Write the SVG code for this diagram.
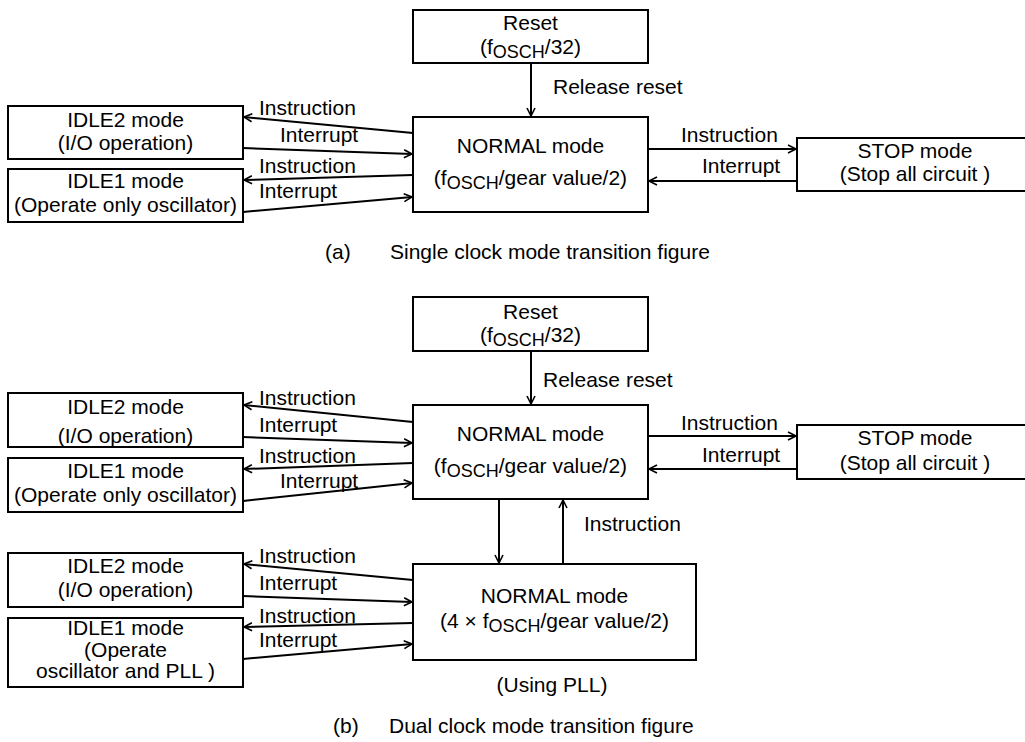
<svg xmlns="http://www.w3.org/2000/svg" width="1025" height="742" viewBox="0 0 1025 742">
<style>
text{font-family:"Liberation Sans",Arial,sans-serif;font-size:21px;fill:#000}
.c{text-anchor:middle}
.box{fill:#fff;stroke:#000;stroke-width:2}
.ln{fill:none;stroke:#000;stroke-width:2;marker-end:url(#ah)}
.sub{font-size:18px}
</style>
<defs>
<marker id="ah" markerUnits="userSpaceOnUse" markerWidth="12" markerHeight="12" viewBox="0 0 12 12" refX="10" refY="6" orient="auto">
<path d="M2,2 L10,6 L2,10" fill="none" stroke="#000" stroke-width="1.6"/>
</marker>
</defs>
<rect width="1025" height="742" fill="#fff"/>

<g id="connectors">
<!-- (a) -->
<line class="ln" x1="531" y1="63" x2="531" y2="116"/>
<line class="ln" x1="648" y1="149" x2="796" y2="149"/>
<line class="ln" x1="797" y1="181" x2="649" y2="181"/>
<line class="ln" x1="413" y1="133" x2="244" y2="117"/>
<line class="ln" x1="243" y1="148" x2="412" y2="154"/>
<line class="ln" x1="413" y1="175" x2="244" y2="180"/>
<line class="ln" x1="243" y1="212" x2="412" y2="197"/>
<!-- (b) -->
<line class="ln" x1="531" y1="351" x2="531" y2="404"/>
<line class="ln" x1="648" y1="436" x2="796" y2="436"/>
<line class="ln" x1="797" y1="469" x2="649" y2="469"/>
<line class="ln" x1="413" y1="422" x2="244" y2="405"/>
<line class="ln" x1="243" y1="437" x2="412" y2="443"/>
<line class="ln" x1="413" y1="463" x2="244" y2="469"/>
<line class="ln" x1="243" y1="501" x2="412" y2="483"/>
<line class="ln" x1="499" y1="499" x2="499" y2="563"/>
<line class="ln" x1="563" y1="564" x2="563" y2="500"/>
<line class="ln" x1="413" y1="580" x2="244" y2="564"/>
<line class="ln" x1="243" y1="596" x2="412" y2="602"/>
<line class="ln" x1="413" y1="623" x2="244" y2="627"/>
<line class="ln" x1="243" y1="659" x2="412" y2="644"/>
</g>

<g id="labels">
<text x="553" y="94">Release reset</text>
<text x="681" y="142">Instruction</text>
<text x="702" y="173">Interrupt</text>
<text x="259" y="115">Instruction</text>
<text x="280" y="142">Interrupt</text>
<text x="259" y="173">Instruction</text>
<text x="259" y="198">Interrupt</text>
<text x="325" y="259">(a)</text>
<text x="390" y="259">Single clock mode transition figure</text>

<text x="543" y="387">Release reset</text>
<text x="681" y="430">Instruction</text>
<text x="702" y="462">Interrupt</text>
<text x="259" y="405">Instruction</text>
<text x="259" y="432">Interrupt</text>
<text x="259" y="463">Instruction</text>
<text x="280" y="488">Interrupt</text>
<text x="584" y="531">Instruction</text>
<text x="259" y="563">Instruction</text>
<text x="259" y="590">Interrupt</text>
<text x="259" y="623">Instruction</text>
<text x="259" y="647">Interrupt</text>
<text class="c" x="552" y="692">(Using PLL)</text>
<text x="333" y="733">(b)</text>
<text x="389" y="733">Dual clock mode transition figure</text>
</g>

<g id="a-reset">
<rect class="box" x="413" y="10" width="235" height="53"/>
<text class="c" x="530.5" y="30">Reset</text>
<text class="c" x="530.5" y="54">(f<tspan class="sub" dy="4">OSCH</tspan><tspan dy="-4">/32)</tspan></text>
</g>
<g id="a-normal">
<rect class="box" x="413" y="117" width="235" height="95"/>
<text class="c" x="530.5" y="153">NORMAL mode</text>
<text class="c" x="530.5" y="185">(f<tspan class="sub" dy="4">OSCH</tspan><tspan dy="-4">/gear value/2)</tspan></text>
</g>
<g id="a-stop">
<rect class="box" x="797" y="138" width="236" height="53"/>
<text class="c" x="915" y="158">STOP mode</text>
<text class="c" x="915" y="181">(Stop all circuit )</text>
</g>
<g id="a-idle2">
<rect class="box" x="8" y="106" width="235" height="53"/>
<text class="c" x="125.5" y="127">IDLE2 mode</text>
<text class="c" x="125.5" y="150">(I/O operation)</text>
</g>
<g id="a-idle1">
<rect class="box" x="8" y="169" width="235" height="53"/>
<text class="c" x="125.5" y="188">IDLE1 mode</text>
<text class="c" x="125.5" y="212">(Operate only oscillator)</text>
</g>

<g id="b-reset">
<rect class="box" x="413" y="297" width="235" height="54"/>
<text class="c" x="530.5" y="319">Reset</text>
<text class="c" x="530.5" y="342">(f<tspan class="sub" dy="4">OSCH</tspan><tspan dy="-4">/32)</tspan></text>
</g>
<g id="b-normal">
<rect class="box" x="413" y="405" width="235" height="94"/>
<text class="c" x="530.5" y="441">NORMAL mode</text>
<text class="c" x="530.5" y="473">(f<tspan class="sub" dy="4">OSCH</tspan><tspan dy="-4">/gear value/2)</tspan></text>
</g>
<g id="b-stop">
<rect class="box" x="797" y="425" width="236" height="54"/>
<text class="c" x="915" y="445">STOP mode</text>
<text class="c" x="915" y="470">(Stop all circuit )</text>
</g>
<g id="b-idle2">
<rect class="box" x="8" y="393" width="235" height="54"/>
<text class="c" x="125.5" y="414">IDLE2 mode</text>
<text class="c" x="125.5" y="443">(I/O operation)</text>
</g>
<g id="b-idle1">
<rect class="box" x="8" y="458" width="235" height="54"/>
<text class="c" x="125.5" y="478">IDLE1 mode</text>
<text class="c" x="125.5" y="502">(Operate only oscillator)</text>
</g>
<g id="b-normal-pll">
<rect class="box" x="413" y="564" width="283" height="96"/>
<text class="c" x="554.5" y="603">NORMAL mode</text>
<text class="c" x="554.5" y="628">(4 × f<tspan class="sub" dy="4">OSCH</tspan><tspan dy="-4">/gear value/2)</tspan></text>
</g>
<g id="b-idle2-pll">
<rect class="box" x="8" y="553" width="235" height="54"/>
<text class="c" x="125.5" y="573">IDLE2 mode</text>
<text class="c" x="125.5" y="597">(I/O operation)</text>
</g>
<g id="b-idle1-pll">
<rect class="box" x="8" y="618" width="235" height="69"/>
<text class="c" x="125.5" y="635">IDLE1 mode</text>
<text class="c" x="125.5" y="657">(Operate</text>
<text class="c" x="125.5" y="678">oscillator and PLL )</text>
</g>
</svg>
